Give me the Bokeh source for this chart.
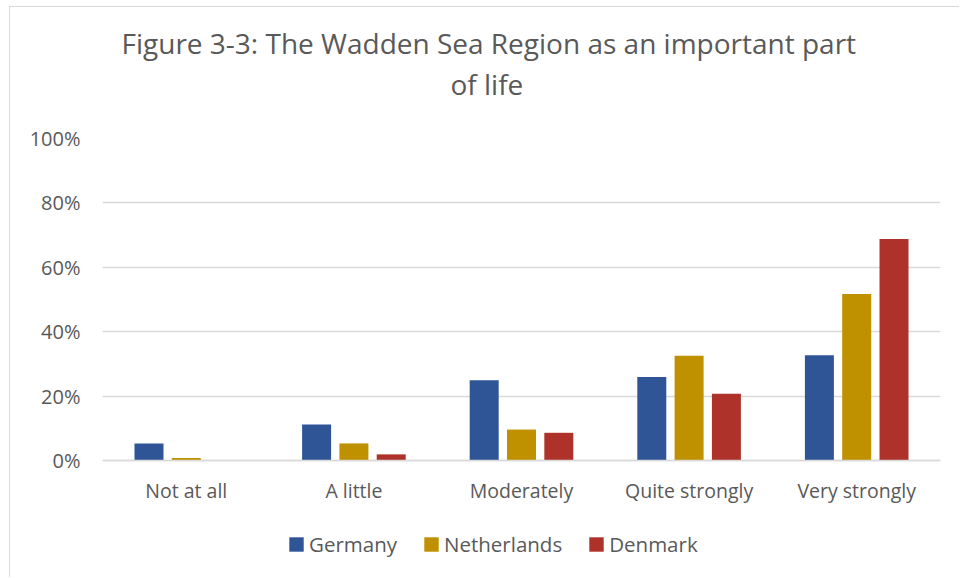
from bokeh.plotting import figure
from bokeh.models import (ColumnDataSource, FactorRange, Range1d, Legend, LegendItem,
                          Title, FixedTicker, PrintfTickFormatter)
from bokeh.transform import dodge
from bokeh.embed import file_html
from bokeh.resources import INLINE

# ---- data ----
categories = ["Not at all", "A little", "Moderately", "Quite strongly", "Very strongly"]
germany = [5.3, 11.2, 24.9, 25.9, 32.7]
netherlands = [0.8, 5.3, 9.6, 32.5, 51.7]
denmark = [0.0, 1.9, 8.6, 20.7, 68.8]
series_names = ["Germany", "Netherlands", "Denmark"]
series_colors = ["#2F5597", "#BF9000", "#AE3229"]
y_ticks = [0, 20, 40, 60, 80, 100]
title_lines = ["Figure 3-3: The Wadden Sea Region as an important part", "of life"]

FONT = "Open Sans"
TXT = "#595959"
GRID = "#D9D9D9"

src = ColumnDataSource(dict(cat=categories, Germany=germany,
                            Netherlands=netherlands, Denmark=denmark))

# frame extends below 0 so the legend can sit inside it; x axis pinned at y=0
p = figure(x_range=FactorRange(*categories), y_range=Range1d(-36.65, 100),
           width=950, height=571, output_backend="svg", toolbar_location=None,
           min_border_left=92, min_border_right=20, min_border_top=131,
           min_border_bottom=0,
           styles={"margin-left": "9px", "margin-top": "6px",
                   "border-left": "1px solid #D9D9D9", "border-top": "1px solid #D9D9D9"})
p.outline_line_color = None

bar_w = 0.173
step = 0.2226
renderers = []
for i, (name, col) in enumerate(zip(series_names, series_colors)):
    r = p.vbar(x=dodge("cat", (i - 1) * step, range=p.x_range), top=name, width=bar_w,
               source=src, fill_color=col, line_color=None)
    renderers.append(r)

# axes
p.yaxis.ticker = FixedTicker(ticks=y_ticks)
p.yaxis.formatter = PrintfTickFormatter(format="%d%%")
p.yaxis.axis_line_color = None
p.yaxis.major_tick_line_color = None
p.yaxis.minor_tick_line_color = None
p.yaxis.major_label_standoff = 16
p.yaxis.major_label_text_font = FONT
p.yaxis.major_label_text_font_size = "20px"
p.yaxis.major_label_text_color = TXT

p.xaxis.fixed_location = 0
p.xaxis.axis_line_color = GRID
p.xaxis.axis_line_width = 1.5
p.xaxis.major_tick_line_color = None
p.xaxis.minor_tick_line_color = None
p.xaxis.major_label_standoff = 11
p.xaxis.major_label_text_font = FONT
p.xaxis.major_label_text_font_size = "19.5px"
p.xaxis.major_label_text_color = TXT

p.xgrid.grid_line_color = None
p.ygrid.grid_line_color = GRID
p.ygrid.grid_line_width = 1.5

# title (two lines)
t2 = Title(text=title_lines[1], text_font=FONT, text_font_size="28px",
           text_font_style="normal", text_color=TXT, align="left", offset=348,
           standoff=71)
t1 = Title(text=title_lines[0], text_font=FONT, text_font_size="28px",
           text_font_style="normal", text_color=TXT, align="left", offset=19,
           standoff=-69)
p.add_layout(t2, "above")
p.add_layout(t1, "above")

# legend
legend = Legend(items=[LegendItem(label=n, renderers=[r]) for n, r in zip(series_names, renderers)],
                orientation="horizontal", location=(185, 20),
                glyph_width=18, glyph_height=18, label_standoff=4, spacing=25,
                padding=0, margin=0, border_line_color=None, background_fill_alpha=0,
                label_text_font=FONT, label_text_font_size="20.5px", label_text_color=TXT)
p.add_layout(legend, "center")

open("out.html", "w").write(file_html(p, INLINE))
